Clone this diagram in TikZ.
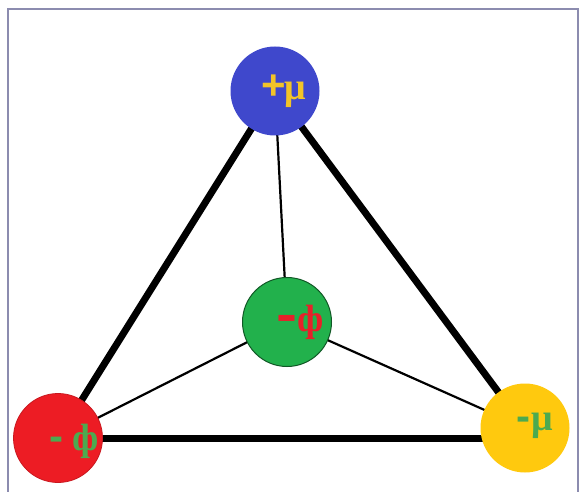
\documentclass[tikz,border=0pt]{standalone}
\usepackage{fontspec}
\setmainfont{Liberation Serif}
\newfontfamily\signfont{Liberation Sans}
\definecolor{nblue}{RGB}{63,72,204}
\definecolor{ngreen}{RGB}{34,177,76}
\definecolor{nred}{RGB}{237,28,36}
\definecolor{nyellow}{RGB}{255,201,14}
\definecolor{tyellow}{RGB}{242,196,40}
\definecolor{tgreen}{RGB}{76,170,80}
\definecolor{tred}{RGB}{232,32,42}
\definecolor{frame}{RGB}{140,140,175}
\newcommand{\sgn}[1]{{\signfont\fontsize{42}{42}\selectfont\bfseries #1}}
\tikzset{
  ball/.style={circle, minimum size=89pt, inner sep=0pt},
  lbl/.style={font=\fontsize{38}{38}\selectfont\bfseries, inner sep=0pt},
  thickedge/.style={line width=7pt, black},
  thinedge/.style={line width=2.2pt, black},
}
\begin{document}
\begin{tikzpicture}[x=1pt,y=-1pt]
\useasboundingbox (0,0) rectangle (579,492);
\fill[white] (0,0) rectangle (579,492);
\draw[frame, line width=1.5pt] (8,492) -- (8,9) -- (578,9) -- (578,492);
\coordinate (cb) at (275,91);
\coordinate (cg) at (287,322);
\coordinate (cr) at (58,438);
\coordinate (cy) at (525,428);
\draw[thinedge] (cb) -- (cg);
\draw[thinedge] (cg) -- (cr);
\draw[thinedge] (cg) -- (cy);
\draw[thickedge] (cb) -- (cr);
\draw[thickedge] (cb) -- (cy);
\draw[thickedge] (cr) -- (cr -| cy);
\node[ball, fill=nblue] (blue) at (cb) {};
\node[ball, fill=ngreen, draw=ngreen!50!black, line width=1pt] (green) at (cg) {};
\node[ball, fill=nred, draw=nred!85!black, line width=0.8pt] (red) at (cr) {};
\node[ball, fill=nyellow] (yellow) at (cy) {};
\node[lbl, text=tyellow] (lb) at (284,91) {\sgn{+}\kern-1ptμ};
\node[lbl, text=tred] (lg) at (300,322) {\sgn{\scalebox{1.5}[1.2]{-}}ф};
\node[lbl, text=tgreen] (lr) at (74,441) {\sgn{-}\hspace{9pt}ф};
\node[lbl, text=tgreen] (ly) at (535,426) {\sgn{-}\kern1ptμ};
\end{tikzpicture}
\end{document}
